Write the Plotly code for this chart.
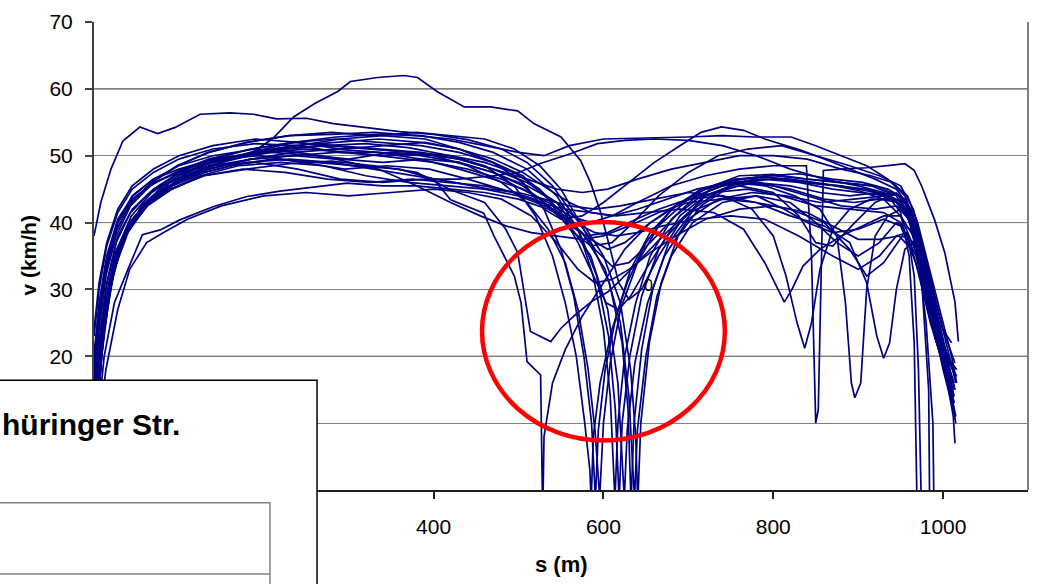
import plotly.graph_objects as go

# ---- data: speed profiles v (km/h) over distance s (m), one list of (s, v) per run ----
run01 = [(0,38),(8,43),(20,48),(34,52.2),(54,54.3),(75,53.3),(95,54.2),(125,56.2),(160,56.4),(188,56.2),(215,55.5),(250,55.6),(282,54.8),(320,54.2),(360,53.6),(400,53.2),(440,52.4),(480,51),(510,49),(540,45.5),(565,41),(585,37.5),(605,36),(625,37),(650,39.5),(680,42),(710,44.5),(740,46),(780,46.8),(820,46.5),(860,45.8),(900,44.8),(930,43.5),(950,41),(970,35),(990,26),(1005,19),(1014,15)]
run02 = [(0,20),(6,27),(15,34),(28,40),(45,44),(70,46.5),(100,48),(140,49.5),(184,50.3),(210,52.5),(235,55.8),(260,57.8),(287,59.6),(302,61.1),(334,61.7),(365,62),(381,61.7),(404,59.6),(436,57.3),(467,57.3),(499,56.7),(518,54.8),(550,52.8),(573,49.3),(585,45.9),(597,41.4),(608,36),(618,31),(630,28.5),(645,30),(665,35),(690,40),(720,44),(760,46),(800,46.5),(840,46),(880,45.5),(920,44.5),(945,43),(962,40),(978,33),(995,24),(1008,19),(1016,17)]
run03 = [(0,0),(3,10),(10,22),(20,31),(35,38),(55,42),(80,45),(115,47),(160,48.5),(210,49.5),(260,49),(310,48.5),(360,48),(400,46.5),(420,43.4),(459,41.4),(471,38),(483,35),(495,32),(503,28),(510,19.2),(518,18.2),(526,17.2),(528,0),(529,0),(530,8),(540,16),(555,21),(575,26),(600,31),(625,36),(655,40),(690,43),(730,44.5),(770,45),(810,44),(850,42.5),(890,42),(930,41.5),(950,40),(968,35),(985,27),(1000,21),(1012,16)]
run04 = [(0,12),(5,20),(13,28),(25,35),(40,39.5),(60,42.5),(90,45),(130,47),(180,48),(230,48.8),(280,49.2),(330,48.5),(380,47.5),(420,44.9),(460,43),(485,39),(499,35.5),(510,27.1),(514,23.7),(538,22.2),(550,24.2),(566,26.1),(585,28.1),(605,29.6),(617,31),(640,34),(670,38),(700,41.5),(740,43.5),(780,44),(813,42),(840,40),(870,38.5),(900,39),(930,40.5),(950,39.5),(968,34),(985,25),(1000,19),(1012,14)]
run05 = [(0,5),(4,14),(12,25),(24,33),(40,39),(62,43),(90,46),(125,48.5),(170,50),(220,51),(270,51.5),(320,51.8),(370,51.2),(420,50),(460,48.5),(495,45.5),(520,41),(540,35),(555,28),(568,20),(578,10),(584,3),(585,0),(586,0),(588,8),(596,16),(610,24),(628,31),(650,37),(680,42),(715,45),(755,46.5),(795,46.8),(835,46),(875,45.5),(910,45),(935,44),(950,41.5),(960,35),(966,22),(969,0)]
run06 = [(0,10),(5,18),(14,28),(27,36),(44,41),(68,44.5),(100,47),(140,49),(190,50.5),(240,51.5),(290,52.5),(340,53),(390,52.5),(430,51),(470,49),(505,46),(530,42),(550,36),(565,29),(577,20),(586,10),(590,0),(591,0),(594,9),(602,18),(615,26),(632,33),(655,38.5),(685,42.5),(720,45),(760,46),(800,45.5),(840,44),(880,42.5),(920,42),(945,42.5),(960,40.5),(975,33),(990,24),(1003,18),(1013,13)]
run07 = [(0,3),(4,12),(11,23),(22,32),(36,38),(56,42.5),(82,45.5),(115,47.5),(160,49.5),(210,50.5),(260,50),(300,49.5),(350,50.5),(400,50),(440,48.5),(480,46),(510,43),(535,39),(555,34),(570,27),(582,18),(590,9),(595,0),(596,0),(600,10),(608,19),(620,27),(640,34),(665,39.5),(700,43.5),(740,45.5),(780,46),(820,45),(860,43.5),(895,43),(925,43.5),(948,43),(962,40),(975,31),(983,15),(984,0)]
run08 = [(0,8),(5,16),(13,26),(25,34),(42,39.5),(65,43),(95,46),(135,48.5),(185,50.5),(235,52),(285,52.8),(335,53.2),(385,53),(430,52),(470,50.5),(510,48),(545,44),(570,39),(588,32),(600,24),(608,14),(613,0),(614,0),(617,10),(625,20),(638,28),(655,35),(680,40.5),(710,44),(750,46),(790,46.5),(830,46),(870,45),(905,44.5),(935,44),(955,42),(968,37),(982,28),(998,20),(1012,15)]
run09 = [(0,14),(6,22),(15,31),(28,38),(45,42),(70,45),(100,47.5),(140,49.5),(185,51),(235,52),(285,51.5),(335,51),(385,50.5),(430,49.5),(470,48),(510,46),(545,43),(572,38.5),(592,32),(606,23),(614,12),(618,0),(619,0),(622,10),(631,20),(645,29),(665,36),(690,41),(720,44),(760,45.5),(800,44.5),(830,41),(850,37),(870,36.5),(896,40),(920,43),(945,44.4),(962,42),(975,36),(988,27),(1002,19),(1015,11)]
run10 = [(0,0),(3,9),(9,20),(19,30),(33,37),(52,41.5),(78,44.5),(110,47),(150,49),(200,50.5),(250,51),(300,50.5),(350,49.8),(400,49),(440,48),(480,46.5),(520,44),(555,40.5),(585,35),(605,27),(617,16),(624,0),(625,0),(628,9),(637,19),(652,28),(672,35),(700,40.5),(735,43.5),(775,44.5),(815,44),(855,43),(895,43.5),(930,44),(955,43),(968,38),(980,25),(988,10),(989,0)]
run11 = [(0,18),(6,26),(15,34),(28,40),(46,43.5),(72,46),(105,48),(145,49.5),(195,50),(245,49),(295,48),(345,48.5),(395,48),(440,46.5),(480,45),(520,43.5),(555,41),(585,37),(607,31),(622,22),(629,12),(632,0),(633,0),(636,10),(645,21),(658,30),(677,37),(703,41.4),(727,45.4),(760,47),(800,47.2),(840,46.5),(880,46),(915,45.5),(945,44),(960,41),(973,35),(987,27),(1000,21),(1015,17)]
run12 = [(0,6),(4,15),(12,26),(24,34),(40,39),(62,42.5),(90,45),(125,47),(170,48.5),(220,49),(270,48.5),(320,47),(370,46),(420,45.5),(460,45),(500,44),(540,42),(575,38.5),(602,33),(620,25),(630,14),(636,0),(637,0),(640,9),(650,20),(663,29),(680,35),(705,40),(740,43),(780,44),(820,43),(850,40),(875,37),(900,35),(925,37),(945,40),(962,39),(975,33),(990,24),(1005,16),(1012,11),(1014,7)]
run13 = [(0,0),(2,8),(8,19),(17,29),(30,36.5),(48,41),(72,44),(102,46.5),(140,48.5),(185,49.5),(235,50),(285,50.5),(335,50.5),(385,50),(430,49),(470,47.5),(510,45.5),(545,43),(575,40),(600,35),(620,28),(632,18),(638,8),(640,0),(641,0),(644,10),(654,22),(668,31),(688,38),(715,42.5),(750,45.5),(790,47),(830,47.3),(870,46.5),(905,46),(935,45),(955,43.5),(968,39),(980,32),(995,25),(1010,22)]
run14 = [(0,16),(5,24),(14,33),(27,39),(44,43),(68,46),(98,48.5),(135,50.5),(180,52),(230,53),(280,53.2),(330,53.5),(380,53),(420,52.5),(460,51.5),(500,50.5),(530,50),(560,51.5),(600,52.5),(650,52.6),(700,52.8),(740,53),(778,52.8),(821,52.8),(850,51.5),(880,50),(910,48.5),(935,46.5),(955,44),(970,39),(985,31),(1000,24),(1014,19)]
run15 = [(0,24),(6,31),(15,37),(28,42),(45,45.5),(70,48),(100,50),(140,51.5),(190,52.5),(240,52),(290,51),(340,51.5),(390,52),(430,51),(470,49),(505,46),(530,42),(550,40.5),(575,41),(600,43),(630,46),(660,49),(690,51.5),(715,53.5),(739,54.3),(765,53.8),(790,52.5),(833,50.8),(860,49.5),(890,48),(920,46.5),(945,45),(962,42),(975,37),(990,29),(1005,21),(1015,16)]
run16 = [(0,9),(5,17),(13,27),(25,35),(42,40),(65,43.5),(95,46),(135,48),(185,49.5),(235,50.5),(285,51),(335,50.5),(385,49.5),(430,48),(470,46.5),(505,45),(535,43),(560,41),(585,40),(610,41),(640,43),(680,45.5),(720,47),(760,48),(800,48.5),(839,48.5),(845,35),(850,10),(853,12),(859,47.8),(880,48),(910,48.2),(940,48.6),(955,48.8),(966,47.8),(975,45.4),(990,40.4),(1002,35.5),(1014,28.1),(1018,22.2)]
run17 = [(0,13),(5,21),(14,30),(26,37),(43,41.5),(66,44.5),(96,47),(135,49),(185,50.5),(235,51.5),(285,52),(335,52.5),(385,52),(430,51),(470,49.5),(505,47.5),(535,45),(560,43),(585,41.5),(610,41),(640,42),(675,43.5),(710,45),(750,46),(790,45.5),(825,44),(855,42),(875,38),(885,28),(892,16),(896,13.8),(903,16),(910,30),(920,38),(935,41),(950,42),(963,40),(975,34),(990,25),(1005,18),(1013,13)]
run18 = [(0,20),(6,28),(15,35),(28,40.5),(46,44),(70,46.5),(100,48.5),(140,50),(190,51),(240,50.5),(290,49.5),(340,49),(390,49.5),(430,49),(470,47.5),(505,45.5),(530,43),(555,40),(580,38),(605,38.5),(630,40),(665,42),(700,43.5),(740,44),(780,43),(820,41),(860,39.5),(890,37),(910,31),(922,23),(930,19.7),(937,22),(945,30),(955,36),(965,37),(975,33),(988,25),(1000,18),(1012,12)]
run19 = [(0,11),(5,19),(13,28),(25,35.5),(42,40),(64,43),(93,45.5),(130,47.5),(180,49),(230,49.5),(280,49),(330,48),(380,47),(425,46),(465,45),(500,44.5),(530,43.5),(560,42.5),(590,42),(620,42.5),(660,43.5),(700,44.5),(740,44),(775,42),(800,38),(815,32),(828,25),(837,21.2),(845,25),(855,33),(870,39),(890,42),(915,43.5),(940,43.5),(958,42),(972,37),(986,28),(1000,21),(1013,16)]
run20 = [(0,7),(5,16),(13,26),(25,34),(41,39),(63,42.5),(92,45),(128,47),(175,48),(225,47.5),(275,46.5),(325,46),(375,46.5),(420,46),(460,45.5),(495,44.5),(525,43),(555,42),(585,41.5),(615,41),(650,41.5),(690,42),(730,41.5),(765,39),(790,34),(805,30),(813,28.1),(822,30),(835,33.5),(855,36),(880,38),(905,39.5),(930,41),(950,41),(965,38),(978,31),(990,24),(1003,18),(1012,12)]
run21 = [(0,2),(4,10),(12,20),(24,28),(40,33),(57,38.2),(78,38.9),(101,40.4),(141,42.4),(180,43.9),(219,44.7),(260,45.3),(298,45.9),(340,45.5),(380,45.5),(420,45),(460,44.5),(500,43.5),(535,42),(565,40),(590,38.5),(615,38),(640,38.5),(670,39.5),(710,40.5),(750,41),(790,40.5),(830,38),(870,35),(900,33),(925,35),(945,38),(958,38.5),(966,32),(971,18),(974,0)]
run22 = [(0,1),(5,9),(14,18),(28,27),(42,33),(62,37),(82,38.5),(110,40.5),(150,42.5),(200,44),(250,44.5),(300,44),(350,44.5),(400,45),(440,44.5),(480,43.5),(515,41),(545,37),(570,33),(590,31),(610,31.5),(630,33),(655,35.5),(685,38),(720,40.5),(760,42),(800,42.5),(840,41.5),(870,39.5),(900,37.5),(925,37.5),(948,38),(963,36),(977,30),(990,23),(1004,17),(1014,11)]
run23 = [(0,17),(6,25),(15,33),(27,39),(44,43),(68,46),(98,48.5),(135,50.5),(180,52),(230,53),(280,53.5),(330,53),(380,53.5),(420,53),(460,52.5),(495,51),(525,48.5),(550,45),(570,40.5),(590,36),(610,33.5),(630,34),(655,37),(685,41),(720,44.5),(760,46.5),(800,47),(840,46.5),(880,46),(920,45.5),(948,44),(963,40),(977,33),(990,26),(1005,20),(1016,18)]
run24 = [(0,4),(4,13),(12,24),(24,33),(40,38.5),(62,42.5),(90,45.5),(128,48),(175,50),(225,51),(275,51.5),(325,51),(375,50.5),(420,50),(460,49),(495,47.5),(525,45),(550,41.5),(570,37),(588,32),(603,28),(618,27),(632,29),(650,33),(675,38),(705,42),(740,45),(780,46),(820,45.5),(855,44.5),(890,44),(925,44.5),(950,44),(964,41),(977,35),(990,27),(1003,20),(1013,14)]
run25 = [(0,23),(6,30),(15,36.5),(28,41.5),(45,45),(70,47.5),(100,49.5),(140,51),(190,51.8),(240,51.5),(290,50.5),(340,50),(390,50.2),(430,49.5),(470,48),(510,46.5),(545,45),(575,44.5),(605,45),(640,46.5),(680,48),(720,49),(760,50),(800,50),(840,49.5),(880,48),(915,47),(940,46),(958,44),(970,40),(984,33),(998,26),(1010,20),(1016,16)]
run26 = [(0,15),(5,23),(14,32),(26,38),(43,42.5),(66,45.5),(96,47.5),(135,49.5),(185,51),(235,52),(285,52.5),(335,52),(385,51.5),(430,50.5),(470,49),(505,47),(535,43.5),(560,39),(585,36.5),(610,37),(635,40),(665,44),(700,47.5),(735,50),(770,51),(810,51.5),(850,50),(890,48.5),(925,47),(950,45.5),(965,42),(977,36),(990,28),(1003,21),(1014,17)]
run27 = [(0,10),(5,18),(14,28),(26,35),(43,40),(66,43.5),(96,46),(135,48),(185,49.5),(235,50),(285,49.5),(335,48),(380,45.5),(420,43),(455,41),(485,39.5),(515,38.5),(545,38),(575,37.5),(600,38),(630,39.5),(665,41.5),(700,43),(740,43.5),(780,43),(820,42),(860,40),(890,36),(910,32),(930,34),(952,38),(966,37),(980,30),(994,22),(1008,15),(1015,10)]
run28 = [(0,19),(6,27),(15,34.5),(28,40),(45,43.5),(70,46),(100,47.5),(140,48.5),(190,49),(240,48),(290,46.5),(340,46),(390,46.5),(430,46.5),(470,47),(500,47.5),(525,48.8),(561,50.3),(593,51.8),(625,52.3),(660,52.5),(700,52.3),(740,51.5),(780,50),(820,48),(860,46.5),(900,45.5),(930,44.5),(952,43),(966,39),(979,32),(993,25),(1006,19),(1014,15)]

runs = [run01, run02, run03, run04, run05, run06, run07, run08, run09, run10,
        run11, run12, run13, run14, run15, run16, run17, run18, run19, run20,
        run21, run22, run23, run24, run25, run26, run27, run28]

x_tickvals = [0, 200, 400, 600, 800, 1000]
x_ticktext = ["", "", "400", "600", "800", "1000"]
y_tickvals = [0, 10, 20, 30, 40, 50, 60, 70]
y_ticktext = ["", "", "20", "30", "40", "50", "60", "70"]
dark_grid_levels = [20, 40, 60]

title_text = "hüringer Str."
x_title = "s (m)"
y_title = "v (km/h)"
marker_text = "0"

FONT = "Arial, Liberation Sans, sans-serif"

fig = go.Figure()
for r in runs:
    fig.add_trace(go.Scatter(
        x=[p[0] for p in r], y=[p[1] for p in r],
        mode="lines", line=dict(color="#000080", width=1.7),
        showlegend=False, hoverinfo="skip"))

shapes = []
for lv in dark_grid_levels:
    shapes.append(dict(type="line", xref="paper", yref="y", x0=0, x1=1, y0=lv, y1=lv,
                       line=dict(color="#000000", width=1), layer="between"))
# right border
shapes.append(dict(type="line", xref="paper", yref="paper", x0=1, x1=1, y0=0, y1=1,
                   line=dict(color="#808080", width=2)))
# red ellipse around the intersection
shapes.append(dict(type="circle", xref="x", yref="y", x0=457, x1=743, y0=7.4, y1=40.1,
                   line=dict(color="#ff0000", width=4.5)))
# overlapping text box (lower left)
shapes.append(dict(type="rect", xref="paper", yref="paper", x0=-0.12, x1=0.2388, y0=-0.25, y1=0.2347,
                   line=dict(color="#000000", width=1.5), fillcolor="#ffffff"))
shapes.append(dict(type="rect", xref="paper", yref="paper", x0=-0.12, x1=0.1884, y0=-0.25, y1=-0.0275,
                   line=dict(color="#808080", width=1.5), fillcolor="#ffffff"))
shapes.append(dict(type="line", xref="paper", yref="paper", x0=-0.12, x1=0.1884, y0=-0.1797, y1=-0.1797,
                   line=dict(color="#808080", width=1.5)))

annotations = [
    dict(text="<b>" + title_text + "</b>", xref="paper", yref="paper", x=-0.1006, y=0.1395,
         xanchor="left", yanchor="middle", showarrow=False,
         font=dict(family=FONT, size=30, color="#000000")),
    dict(text="<b>" + x_title + "</b>", xref="paper", yref="paper", x=0.501, y=-0.1586,
         xanchor="center", yanchor="middle", showarrow=False,
         font=dict(family=FONT, size=22, color="#000000")),
    dict(text="<b>" + y_title + "</b>", xref="paper", yref="paper", x=-0.0696, y=0.503,
         xanchor="center", yanchor="middle", textangle=-90, showarrow=False,
         font=dict(family=FONT, size=21, color="#000000")),
    dict(text=marker_text, xref="x", yref="y", x=652.5, y=30.6, xanchor="center", yanchor="middle",
         showarrow=False, font=dict(family=FONT, size=16, color="#000000")),
]

fig.update_layout(
    width=1038, height=584,
    margin=dict(l=94, r=10, t=17, b=94),
    paper_bgcolor="#ffffff", plot_bgcolor="#ffffff",
    font=dict(family=FONT, size=20, color="#000000"),
    shapes=shapes, annotations=annotations,
    xaxis=dict(range=[0, 1100], tickvals=x_tickvals, ticktext=x_ticktext, showgrid=False,
               zeroline=False, showline=True, linecolor="#202020", linewidth=1.5,
               ticks="outside", ticklen=7, tickcolor="#202020", tickwidth=1.5,
               ticklabelstandoff=10, tickfont=dict(size=21)),
    yaxis=dict(range=[0, 70], tickvals=y_tickvals, ticktext=y_ticktext, showgrid=True,
               gridcolor="#808080", gridwidth=1, zeroline=False, showline=True,
               linecolor="#404040", linewidth=2, ticks="outside", ticklen=7,
               tickcolor="#404040", tickwidth=1.5, ticklabelstandoff=8, tickfont=dict(size=21)),
)

fig.write_html("out.html", config={"displayModeBar": False},
               post_script="document.body.style.margin='0';document.body.style.padding='0';")
